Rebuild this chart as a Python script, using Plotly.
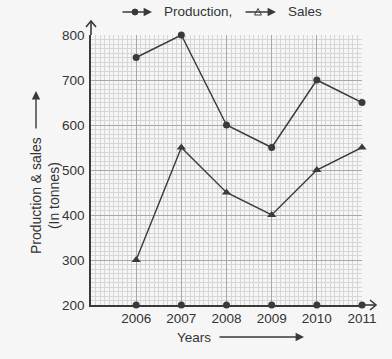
import plotly.graph_objects as go

years = [2006, 2007, 2008, 2009, 2010, 2011]
production = [750, 800, 600, 550, 700, 650]
sales = [300, 550, 450, 400, 500, 550]
y_ticks = [200, 300, 400, 500, 600, 700, 800]
x_start = 2005

INK = "#3a3a3a"
TXT = "#333333"
BG = "#f6f6f6"
W, H = 392, 359
ML, MR, MT, MB = 91, 30, 35, 54
PW, PH = W - ML - MR, H - MT - MB


def px_x(p):
    return (p - ML) / PW


def px_y(p):
    return (H - MB - p) / PH


fig = go.Figure()

fig.add_trace(go.Scatter(
    x=years, y=production, mode="lines+markers", name="Production",
    line=dict(color=INK, width=1.4),
    marker=dict(symbol="circle", size=7, color=INK),
    cliponaxis=False, showlegend=False))

fig.add_trace(go.Scatter(
    x=years, y=sales, mode="lines+markers", name="Sales",
    line=dict(color=INK, width=1.4),
    marker=dict(symbol="triangle-up", size=8, color=INK),
    cliponaxis=False, showlegend=False))

fig.add_trace(go.Scatter(
    x=years, y=[y_ticks[0]] * len(years), mode="markers",
    marker=dict(symbol="circle", size=7, color=INK),
    cliponaxis=False, showlegend=False, hoverinfo="skip"))

shapes = []
annotations = []

# axis extensions with open chevron heads
x_tip = px_x(376)
y_tip = px_y(21)
shapes.append(dict(type="line", xref="paper", yref="paper", x0=1, y0=0, x1=x_tip, y1=0,
                   line=dict(color=INK, width=1.6)))
shapes.append(dict(type="path", xref="paper", yref="paper", xsizemode="pixel", ysizemode="pixel",
                   xanchor=x_tip, yanchor=0, path="M -6 5 L 0 0 L -6 -5",
                   line=dict(color=INK, width=1.6)))
shapes.append(dict(type="line", xref="paper", yref="paper", x0=0, y0=1, x1=0, y1=y_tip,
                   line=dict(color=INK, width=1.6)))
shapes.append(dict(type="path", xref="paper", yref="paper", xsizemode="pixel", ysizemode="pixel",
                   xanchor=0, yanchor=y_tip, path="M -5 -6 L 0 0 L 5 -6",
                   line=dict(color=INK, width=1.6)))

# legend
ly = px_y(12)
annotations.append(dict(xref="paper", yref="paper", x=px_x(152), y=ly, ax=-31, ay=0,
                        text="", showarrow=True, arrowhead=2, arrowsize=1.2, arrowwidth=1.4,
                        arrowcolor=INK))
shapes.append(dict(type="circle", xref="paper", yref="paper", xsizemode="pixel", ysizemode="pixel",
                   xanchor=px_x(135), yanchor=ly, x0=-3, x1=3, y0=-3, y1=3,
                   fillcolor=INK, line=dict(color=INK, width=1)))
annotations.append(dict(xref="paper", yref="paper", x=px_x(162), y=ly, xanchor="left", yanchor="middle",
                        text="Production,", showarrow=False, font=dict(size=13.5, color=TXT)))
annotations.append(dict(xref="paper", yref="paper", x=px_x(276), y=ly, ax=-32, ay=0,
                        text="", showarrow=True, arrowhead=2, arrowsize=1.2, arrowwidth=1.4,
                        arrowcolor=INK))
shapes.append(dict(type="path", xref="paper", yref="paper", xsizemode="pixel", ysizemode="pixel",
                   xanchor=px_x(258), yanchor=ly, path="M -3.5 -3 L 3.5 -3 L 0 3.5 Z",
                   fillcolor=BG, line=dict(color=INK, width=1)))
annotations.append(dict(xref="paper", yref="paper", x=px_x(286), y=ly, xanchor="left", yanchor="middle",
                        text="Sales", showarrow=False, font=dict(size=13.5, color=TXT)))

# y title + arrow
annotations.append(dict(xref="paper", yref="paper", x=px_x(45), y=px_y(196), xanchor="center",
                        yanchor="middle", textangle=-90,
                        text="Production &amp; sales<br>(In tonnes)", showarrow=False,
                        font=dict(size=14, color=TXT)))
annotations.append(dict(xref="paper", yref="paper", x=px_x(36), y=px_y(91), ax=0, ay=39,
                        text="", showarrow=True, arrowhead=2, arrowsize=1.2, arrowwidth=1.4,
                        arrowcolor=INK))

# x title + arrow
annotations.append(dict(xref="paper", yref="paper", x=px_x(213), y=px_y(337), xanchor="right",
                        yanchor="middle", text="Years", showarrow=False,
                        font=dict(size=13.5, color=TXT)))
annotations.append(dict(xref="paper", yref="paper", x=px_x(304), y=px_y(337), ax=-86, ay=0,
                        text="", showarrow=True, arrowhead=2, arrowsize=1.2, arrowwidth=1.4,
                        arrowcolor=INK))

fig.update_layout(
    width=W, height=H,
    margin=dict(l=ML, r=MR, t=MT, b=MB, pad=0),
    paper_bgcolor=BG, plot_bgcolor=BG,
    font=dict(family="Liberation Sans, Arial, sans-serif", size=13.5, color=TXT),
    shapes=shapes, annotations=annotations,
    xaxis=dict(range=[x_start, years[-1]], tickvals=years, ticktext=[str(y) for y in years],
               showline=True, linecolor=INK, linewidth=1.6,
               showgrid=True, gridcolor="#a8a8a8", gridwidth=0.8, dtick=1, tick0=x_start,
               minor=dict(dtick=0.1, showgrid=True, gridcolor="#d6d6d6", gridwidth=0.6),
               zeroline=False, ticks="", fixedrange=True),
    yaxis=dict(range=[y_ticks[0], y_ticks[-1]], tickvals=y_ticks,
               showline=True, linecolor=INK, linewidth=1.6,
               showgrid=True, gridcolor="#a8a8a8", gridwidth=0.8,
               minor=dict(dtick=10, showgrid=True, gridcolor="#d6d6d6", gridwidth=0.6),
               zeroline=False, ticks="", ticklabelstandoff=2, fixedrange=True),
)

fig.write_html("out.html", config={"displayModeBar": False},
               post_script="document.body.style.margin='0';document.body.style.background='%s';" % BG)
